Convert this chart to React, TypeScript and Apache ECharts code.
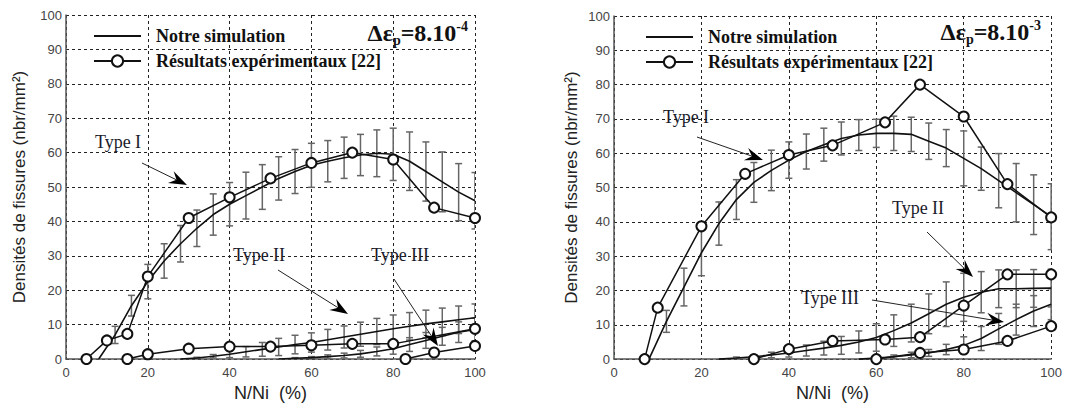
import React, { useEffect, useRef } from "react";
import * as echarts from "echarts";

// ---------- Left chart (Δεp = 8.10^-4) ----------
const leftExpI_N = [5, 10, 15, 20, 30, 40, 50, 60, 70, 80, 90, 100];
const leftExpI = [0, 5.4, 7.3, 24, 41, 47, 52.5, 57, 60, 58, 44, 41];
const leftSimI_N = [8, 12, 16, 20, 24, 28, 32, 36, 40, 44, 48, 52, 56, 60, 64, 68, 72, 76, 80, 84, 88, 92, 96, 100];
const leftSimI = [0, 7, 15.5, 22.5, 28.5, 33.5, 38, 42, 45, 47.5, 50, 52.5, 54.5, 56.3, 57.5, 58.5, 59.3, 59.8, 59.5, 57.5, 54.5, 51.5, 48.5, 46];
const leftSimI_err = [0, 2.5, 3, 5, 5, 5.3, 5.3, 6, 6.3, 6.8, 6.5, 6.3, 6.4, 6.4, 6, 6, 6, 6.8, 7.6, 8.5, 8.6, 8.7, 8.3, 8.2];

const leftExpII_N = [15, 20, 30, 40, 50, 60, 70, 80, 100];
const leftExpII = [0, 1.4, 3.0, 3.6, 3.6, 4.0, 4.4, 4.4, 8.8];
const leftSimII_N = [28, 32, 36, 40, 44, 48, 52, 56, 60, 64, 68, 72, 76, 80, 84, 88, 92, 96, 100];
const leftSimII = [0, 0.3, 0.8, 1.4, 2.1, 2.8, 3.5, 4.2, 4.8, 5.6, 6.4, 7.2, 8, 8.8, 9.5, 10.2, 10.8, 11.4, 12];
const leftSimII_err = [0, 0.2, 0.5, 1, 1.5, 2, 2.5, 2.7, 2.8, 3, 3.2, 3.5, 3.8, 4, 4, 4, 4, 4, 4];

const leftExpIII_N = [83, 90, 100];
const leftExpIII = [0, 1.9, 3.8];
const leftSimIII_N = [52, 56, 60, 64, 68, 72, 76, 80, 84, 88, 92, 96, 100];
const leftSimIII = [0, 0.2, 0.4, 0.7, 1, 1.5, 2.2, 3, 4.2, 5.4, 6.6, 7.8, 8.6];
const leftSimIII_err = [0, 0.2, 0.3, 0.5, 0.7, 1, 1.3, 1.6, 2, 2.3, 2.6, 3, 3.3];

// ---------- Right chart (Δεp = 8.10^-3) ----------
const rightExpI_N = [7, 10, 20, 30, 40, 50, 62, 70, 80, 90, 100];
const rightExpI = [0, 15, 38.7, 54, 59.5, 62.3, 69, 80, 70.7, 51, 41.3];
const rightSimI_N = [8, 12, 16, 20, 24, 28, 32, 36, 40, 44, 48, 52, 56, 60, 64, 68, 72, 76, 80, 84, 88, 92, 96, 100];
const rightSimI = [0, 11, 21, 31, 39.5, 46.5, 51.5, 55, 58, 60.5, 62.5, 64.3, 65.3, 65.8, 65.8, 65.5, 63.5, 61.5, 58.5, 55.5, 52, 48.5, 45, 41.5];
const rightSimI_err = [0, 3.2, 5.5, 6.7, 6.3, 5.8, 5.8, 5.9, 5.3, 5.1, 4.8, 4.8, 4.5, 4.1, 5, 5, 5.3, 5.4, 8, 6.3, 7.9, 8.5, 8.7, 9.6];

const rightExpII_N = [32, 40, 50, 62, 70, 80, 90, 100];
const rightExpII = [0, 2.9, 5.3, 5.7, 6.4, 15.6, 24.7, 24.7];
const rightSimII_N = [24, 28, 32, 36, 40, 44, 48, 52, 56, 60, 64, 68, 72, 76, 80, 84, 88, 92, 96, 100];
const rightSimII = [0, 0.3, 0.7, 1.2, 1.8, 2.5, 3.2, 4, 5, 6.3, 8.3, 10.5, 13.2, 16, 18, 19.5, 20.5, 20.5, 20.6, 20.7];
const rightSimII_err = [0, 0.3, 0.5, 0.8, 1.2, 1.6, 2, 2.6, 3.2, 4, 4.6, 5.5, 5.8, 6.5, 7, 6, 5.5, 5.5, 5.5, 5.5];

const rightExpIII_N = [60, 70, 80, 90, 100];
const rightExpIII = [0, 1.8, 2.8, 5.3, 9.6];
const rightSimIII_N = [56, 60, 64, 68, 72, 76, 80, 84, 88, 92, 96, 100];
const rightSimIII = [0, 0.3, 0.7, 1.2, 1.8, 2.8, 4, 6, 8.8, 11.5, 14, 16];
const rightSimIII_err = [0, 0.3, 0.5, 0.8, 1, 1.5, 2.5, 3.5, 4.5, 4.5, 4.5, 4.5];

const SIM = "Notre simulation";
const EXP = "Résultats expérimentaux [22]";
const SERIF = "Liberation Serif, Times New Roman, serif";
const SANS = "Liberation Sans, Arial, sans-serif";

function simLine(N: number[], v: number[], gi: number) {
  return {
    type: "line",
    name: SIM,
    xAxisIndex: gi,
    yAxisIndex: gi,
    data: N.map((n, i) => [n, v[i]]),
    symbol: "none",
    color: "#111",
    lineStyle: { color: "#111", width: 1.6 },
    z: 3,
  };
}

function expLine(N: number[], v: number[], gi: number) {
  return {
    type: "line",
    name: EXP,
    xAxisIndex: gi,
    yAxisIndex: gi,
    data: N.map((n, i) => [n, v[i]]),
    symbol: "emptyCircle",
    symbolSize: 10,
    showAllSymbol: true,
    color: "#111",
    itemStyle: { color: "#111", borderWidth: 1.4 },
    lineStyle: { color: "#111", width: 1.5 },
    z: 4,
  };
}

function errBars(N: number[], v: number[], e: number[], gi: number) {
  return {
    type: "custom",
    xAxisIndex: gi,
    yAxisIndex: gi,
    data: N.map((n, i) => [n, v[i], e[i]]),
    encode: { x: 0, y: 1 },
    clip: true,
    z: 2,
    renderItem: (params: any, api: any) => {
      const x = api.value(0);
      const y = api.value(1);
      const err = api.value(2);
      if (!err) return null;
      const top = api.coord([x, y + err]);
      const bot = api.coord([x, Math.max(0, y - err)]);
      const c = 3.5;
      const st = { stroke: "#666", lineWidth: 1.5 };
      return {
        type: "group",
        children: [
          { type: "line", shape: { x1: top[0], y1: top[1], x2: bot[0], y2: bot[1] }, style: st },
          { type: "line", shape: { x1: top[0] - c, y1: top[1], x2: top[0] + c, y2: top[1] }, style: st },
          { type: "line", shape: { x1: bot[0] - c, y1: bot[1], x2: bot[0] + c, y2: bot[1] }, style: st },
        ],
      };
    },
  };
}

function arrow(x1: number, y1: number, x2: number, y2: number) {
  const dx = x2 - x1, dy = y2 - y1;
  const L = Math.hypot(dx, dy);
  const ux = dx / L, uy = dy / L;
  const px = -uy, py = ux;
  const hl = 18, hw = 6.5;
  const bx = x2 - ux * hl, by = y2 - uy * hl;
  const nx = x2 - ux * hl * 0.65, ny = y2 - uy * hl * 0.65;
  return [
    { type: "line", z: 100, shape: { x1, y1, x2: nx, y2: ny }, style: { stroke: "#222", lineWidth: 1 } },
    {
      type: "polygon",
      z: 100,
      shape: { points: [[x2, y2], [bx + px * hw, by + py * hw], [nx, ny], [bx - px * hw, by - py * hw]] },
      style: { fill: "#000" },
    },
  ];
}

function label(text: string, x: number, y: number) {
  return {
    type: "text",
    z: 100,
    x,
    y,
    style: { text, fontFamily: SERIF, fontSize: 18, fill: "#1a1a2a", align: "center", verticalAlign: "middle" },
  };
}

function deltaLabel(exp: string, x: number, y: number) {
  const base = { fontFamily: SERIF, fontWeight: "bold", fill: "#111" };
  return {
    type: "text",
    z: 100,
    x,
    y,
    style: {
      text: `{a|Δε}{b|p}{a|=8.10}{c|${exp}}`,
      align: "right",
      verticalAlign: "middle",
      rich: {
        a: { ...base, fontSize: 24, lineHeight: 28 },
        b: { ...base, fontSize: 14, lineHeight: 12, verticalAlign: "bottom" },
        c: { ...base, fontSize: 14, lineHeight: 14, verticalAlign: "top" },
      },
    },
  };
}

function axisX(gi: number, gap: number) {
  return {
    type: "value",
    gridIndex: gi,
    min: 0,
    max: 100,
    interval: 20,
    name: "N/Ni  (%)",
    nameLocation: "middle",
    nameGap: gap,
    nameTextStyle: { fontFamily: SANS, fontSize: 18, color: "#222" },
    axisLine: { show: true, onZero: false, lineStyle: { color: "#555", width: 1.5 } },
    axisTick: { show: false },
    axisLabel: { fontFamily: SANS, fontSize: 13, color: "#444", margin: 7 },
    splitLine: { show: true, lineStyle: { type: [3, 3], color: "#222", width: 1 } },
  };
}

function axisY(gi: number, gap: number) {
  return {
    type: "value",
    gridIndex: gi,
    min: 0,
    max: 100,
    interval: 10,
    name: "Densités de fissures (nbr/mm²)",
    nameLocation: "middle",
    nameGap: gap,
    nameTextStyle: { fontFamily: SANS, fontSize: 17, color: "#222" },
    axisLine: { show: true, onZero: false, lineStyle: { color: "#555", width: 1.5 } },
    axisTick: { show: false },
    axisLabel: { fontFamily: SANS, fontSize: 13, color: "#444", margin: 4 },
    splitLine: { show: true, lineStyle: { type: [3, 3], color: "#222", width: 1 } },
  };
}

function legend(left: number, top: number) {
  return {
    left,
    top,
    orient: "vertical",
    itemWidth: 47,
    itemHeight: 14,
    itemGap: 5,
    selectedMode: false,
    data: [
      { name: SIM, itemStyle: { color: "rgba(0,0,0,0)", borderWidth: 0, opacity: 0 } },
      { name: EXP },
    ],
    textStyle: {
      fontFamily: SERIF,
      fontWeight: "bold",
      fontSize: 18,
      color: "#111",
      lineHeight: 20,
      padding: [0, 0, 0, 10],
    },
  };
}

export default function App() {
  const ref = useRef<HTMLDivElement>(null);
  useEffect(() => {
    if (!ref.current) return;
    const chart = echarts.init(ref.current, null, { renderer: "svg" });
    const option: any = {
      animation: false,
      backgroundColor: "#fff",
      grid: [
        { left: 66, top: 15, width: 409, height: 344 },
        { left: 614, top: 16, width: 441, height: 346 },
      ],
      xAxis: [axisX(0, 25), axisX(1, 22)],
      yAxis: [axisY(0, 38), axisY(1, 34)],
      legend: [legend(88, 21), legend(640, 22)],
      graphic: [
        deltaLabel("-4", 468, 33),
        deltaLabel("-3", 1041, 32),
        label("Type I", 118, 142),
        ...arrow(142, 163, 187, 185),
        label("Type II", 259, 255),
        ...arrow(278, 270, 348, 314),
        label("Type III", 400, 255),
        ...arrow(394, 279, 438, 346),
        label("Type I", 686, 117),
        ...arrow(697, 137, 763, 160),
        label("Type II", 918, 208),
        ...arrow(927, 232, 973, 277),
        label("Type III", 830, 298),
        ...arrow(872, 300, 1004, 322),
      ],
      series: [
        errBars(leftSimI_N, leftSimI, leftSimI_err, 0),
        errBars(leftSimII_N, leftSimII, leftSimII_err, 0),
        errBars(leftSimIII_N, leftSimIII, leftSimIII_err, 0),
        simLine(leftSimI_N, leftSimI, 0),
        simLine(leftSimII_N, leftSimII, 0),
        simLine(leftSimIII_N, leftSimIII, 0),
        expLine(leftExpI_N, leftExpI, 0),
        expLine(leftExpII_N, leftExpII, 0),
        expLine(leftExpIII_N, leftExpIII, 0),
        errBars(rightSimI_N, rightSimI, rightSimI_err, 1),
        errBars(rightSimII_N, rightSimII, rightSimII_err, 1),
        errBars(rightSimIII_N, rightSimIII, rightSimIII_err, 1),
        simLine(rightSimI_N, rightSimI, 1),
        simLine(rightSimII_N, rightSimII, 1),
        simLine(rightSimIII_N, rightSimIII, 1),
        expLine(rightExpI_N, rightExpI, 1),
        expLine(rightExpII_N, rightExpII, 1),
        expLine(rightExpIII_N, rightExpIII, 1),
      ],
    };
    chart.setOption(option);
    return () => chart.dispose();
  }, []);
  return (
    <div
      ref={ref}
      style={{ position: "fixed", left: 0, top: 0, width: 1065, height: 407, background: "#fff" }}
    />
  );
}
